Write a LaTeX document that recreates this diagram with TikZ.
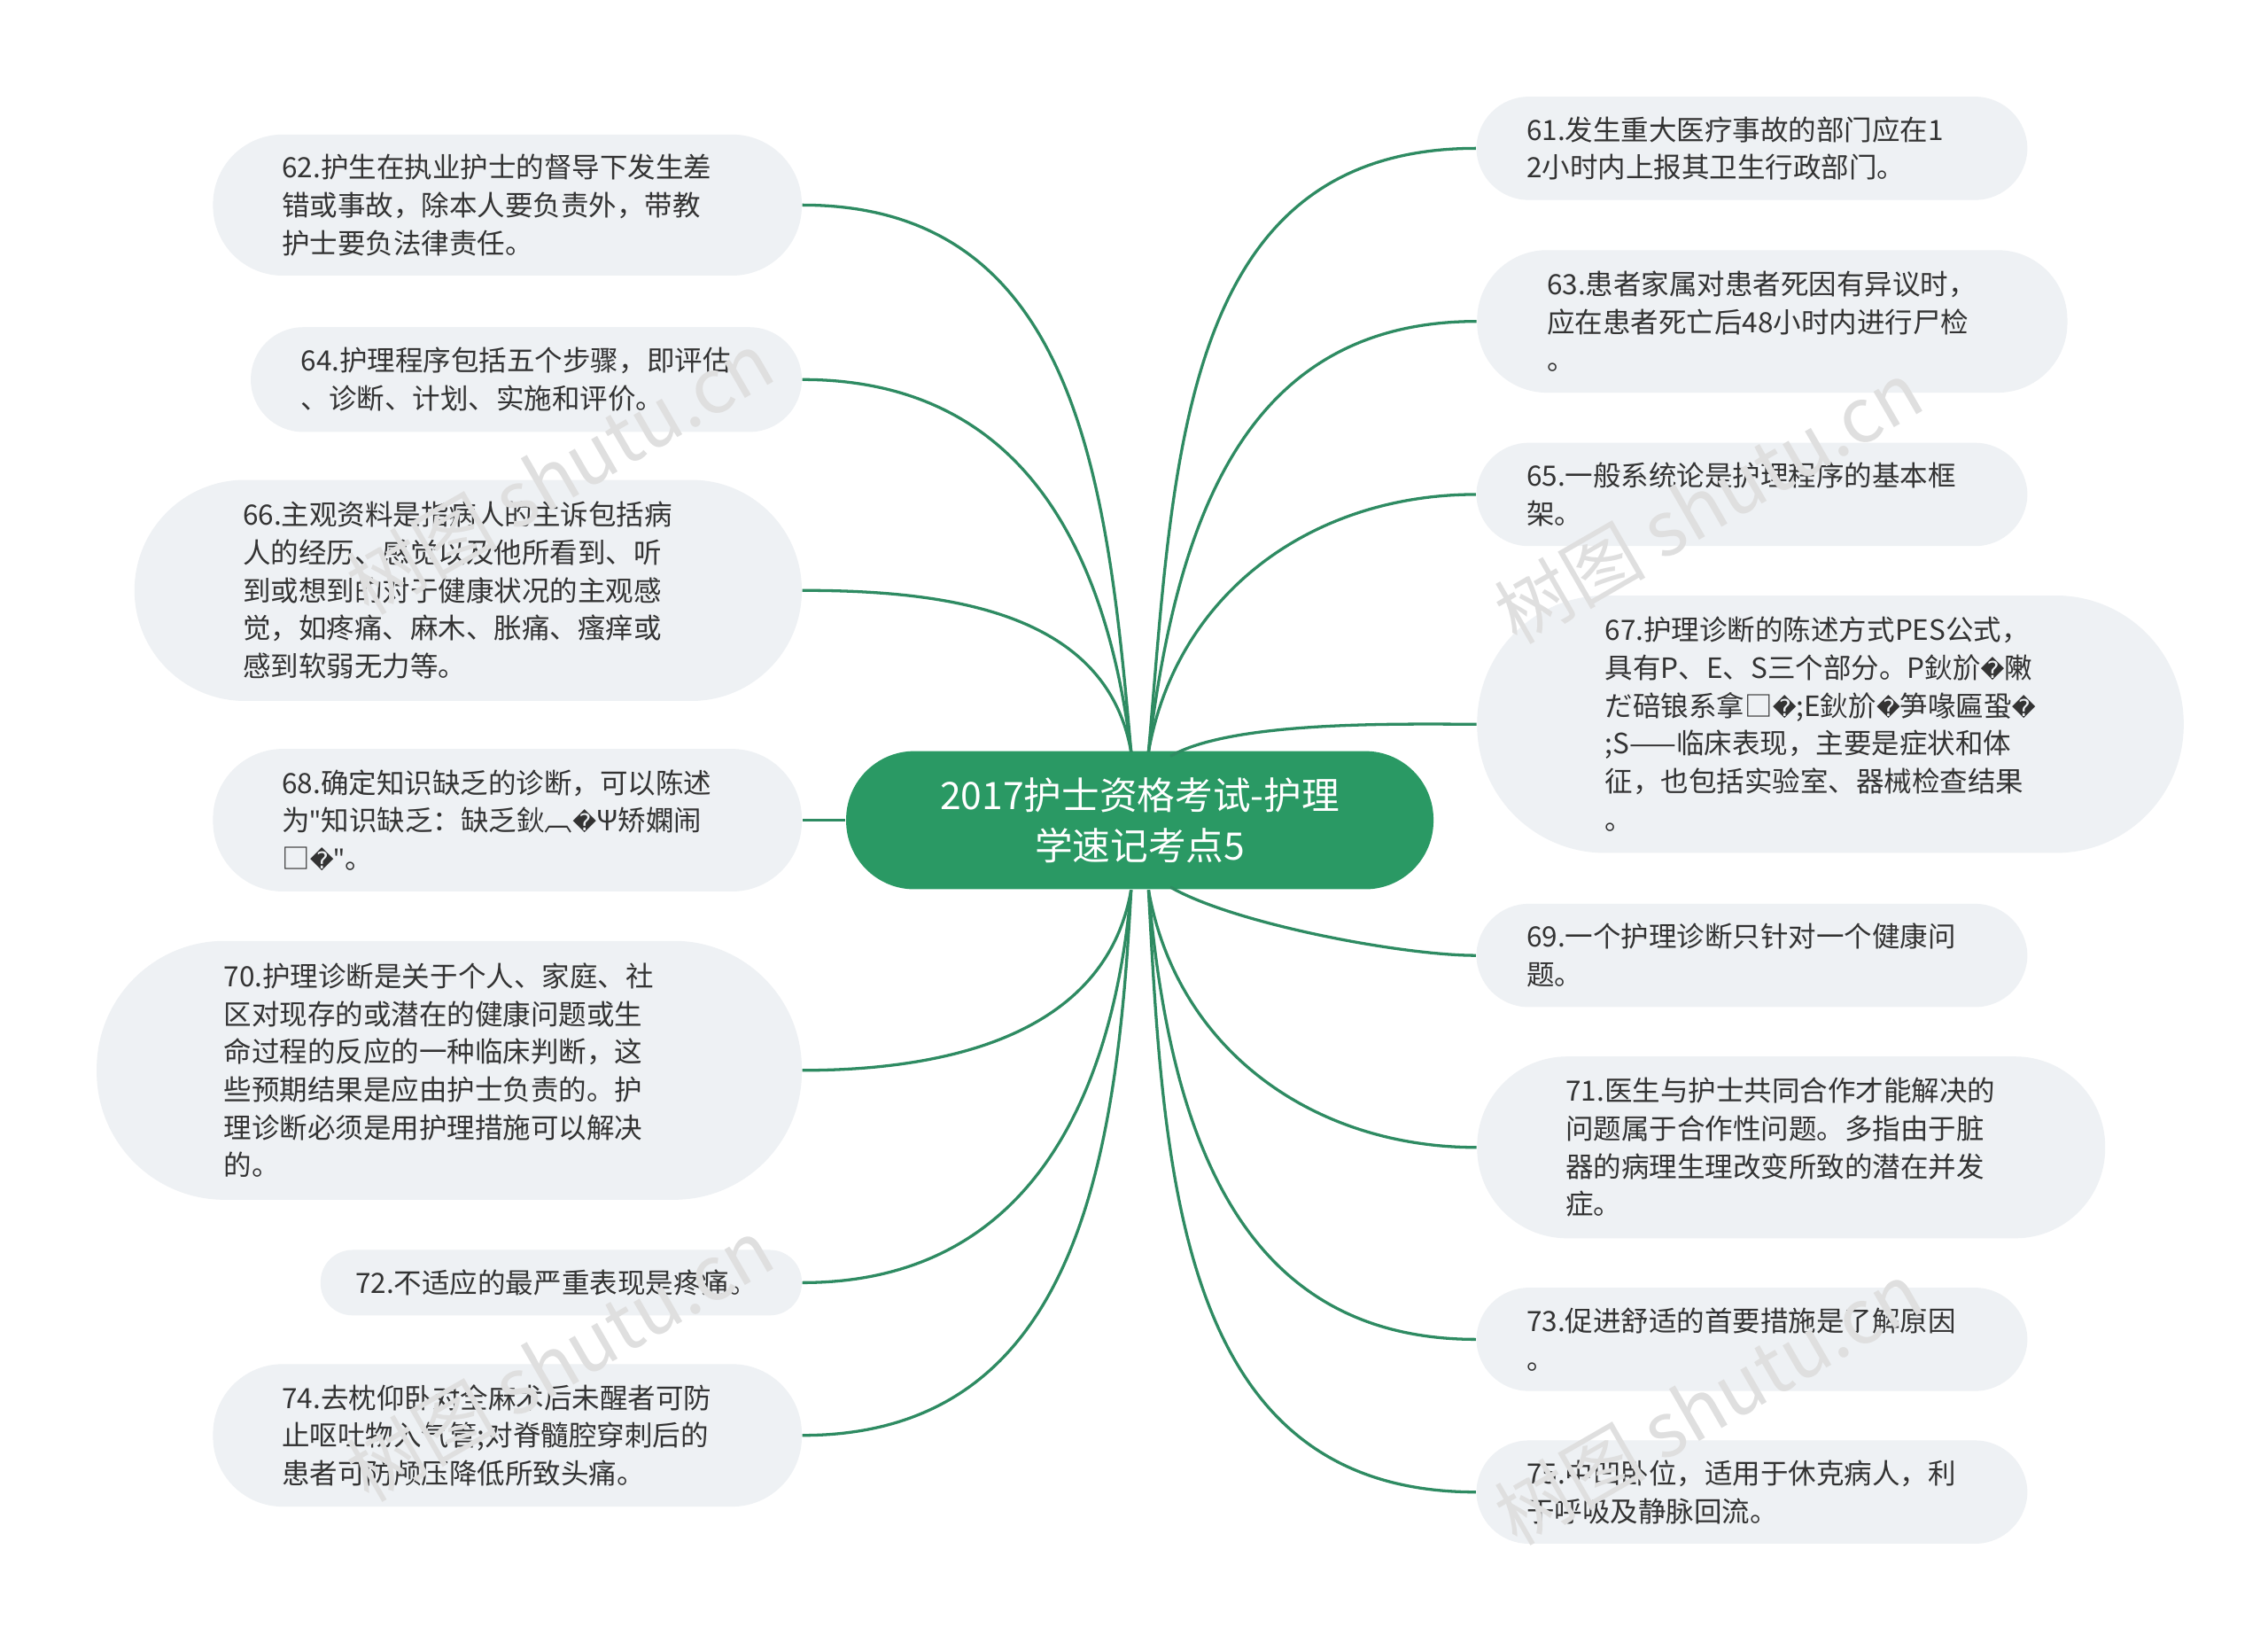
\documentclass[tikz,border=0pt]{standalone}
\usepackage{fontspec}
\setmainfont{Noto Sans CJK SC}
\newfontfamily\dvs{DejaVu Sans}
\newfontfamily\nsans{Noto Sans}
\newcommand{\repch}{{\dvs\fontsize{8}{13}\selectfont �}}
\newcommand{\strq}{{\nsans"}}
\begin{document}
\begin{tikzpicture}[x=0.5pt,y=-0.5pt,
  leaf/.style={fill=boxfill,rounded corners=#1,align=left,text width=155pt,inner sep=0pt,font=\fontsize{9.6}{13}\selectfont,text=txt},
  edge/.style={draw=lnk,line width=1pt},
  wm/.style={text=gray!25,font=\fontsize{26}{26}\selectfont,rotate=30}]
\definecolor{boxfill}{HTML}{EEF1F4}
\definecolor{lnk}{HTML}{2E8B62}
\definecolor{ctr}{HTML}{2A9964}
\definecolor{txt}{HTML}{333333}
\useasboundingbox (0,0) rectangle (1560,1124);
\fill[white] (0,0) rectangle (1560,1124);
\node[fill=ctr,rounded corners=23.5pt,minimum width=202pt,minimum height=47.5pt,align=center,text=white,font=\fontsize{13}{17.5}\selectfont] (c) at (784,564) {2017护士资格考试-护理\\学速记考点5};
% left
\node[leaf=24pt,minimum width=202.5pt,minimum height=48.5pt] (n62) at (349,141) {62.护生在执业护士的督导下发生差\\错或事故，除本人要负责外，带教\\护士要负法律责任。};
\node[leaf=18pt,minimum width=189.5pt,minimum height=36pt] (n64) at (362,261) {64.护理程序包括五个步骤，即评估\\、诊断、计划、实施和评价。};
\node[leaf=38pt,minimum width=229.5pt,minimum height=76pt] (n66) at (322,406) {66.主观资料是指病人的主诉包括病\\人的经历、感觉以及他所看到、听\\到或想到的对于健康状况的主观感\\觉，如疼痛、麻木、胀痛、瘙痒或\\感到软弱无力等。};
\node[leaf=24pt,minimum width=202.5pt,minimum height=49pt] (n68) at (349,564) {68.确定知识缺乏的诊断，可以陈述\\为\strq 知识缺乏：缺乏鈥︹\repch Ψ矫嫻闹\\□\repch\strq 。};
\node[leaf=44pt,minimum width=242.5pt,minimum height=89pt] (n70) at (309,736) {70.护理诊断是关于个人、家庭、社\\区对现存的或潜在的健康问题或生\\命过程的反应的一种临床判断，这\\些预期结果是应由护士负责的。护\\理诊断必须是用护理措施可以解决\\的。};
\node[leaf=11pt,text width=141.5pt,minimum width=165.5pt,minimum height=22.5pt] (n72) at (386,882) {72.不适应的最严重表现是疼痛。};
\node[leaf=24pt,minimum width=202.5pt,minimum height=49pt] (n74) at (349,987) {74.去枕仰卧对全麻术后未醒者可防\\止呕吐物入气管;对脊髓腔穿刺后的\\患者可防颅压降低所致头痛。};
% right
\node[leaf=18pt,minimum width=189.5pt,minimum height=35.5pt] (n61) at (1205,102) {61.发生重大医疗事故的部门应在1\\2小时内上报其卫生行政部门。};
\node[leaf=24pt,minimum width=203pt,minimum height=49pt] (n63) at (1219,221) {63.患者家属对患者死因有异议时，\\应在患者死亡后48小时内进行尸检\\。};
\node[leaf=18pt,minimum width=189.5pt,minimum height=35.5pt] (n65) at (1205,340) {65.一般系统论是护理程序的基本框\\架。};
\node[leaf=44pt,minimum width=243pt,minimum height=88.5pt] (n67) at (1259,498) {67.护理诊断的陈述方式PES公式，\\具有P、E、S三个部分。P鈥斺\repch 敶\\だ碚锒系拿□\repch ;E鈥斺\repch 笋喙匾蛩\repch \\;S——临床表现，主要是症状和体\\征，也包括实验室、器械检查结果\\。};
\node[leaf=18pt,minimum width=189.5pt,minimum height=35.5pt] (n69) at (1205,657) {69.一个护理诊断只针对一个健康问\\题。};
\node[leaf=31pt,minimum width=216pt,minimum height=62.5pt] (n71) at (1232,789) {71.医生与护士共同合作才能解决的\\问题属于合作性问题。多指由于脏\\器的病理生理改变所致的潜在并发\\症。};
\node[leaf=18pt,minimum width=189.5pt,minimum height=35.5pt] (n73) at (1205,921) {73.促进舒适的首要措施是了解原因\\。};
\node[leaf=18pt,minimum width=189.5pt,minimum height=35.5pt] (n75) at (1205,1026) {75.中凹卧位，适用于休克病人，利\\于呼吸及静脉回流。};
% edges
\coordinate (tl) at (778,517); \coordinate (tr) at (790,517);
\coordinate (bl) at (778,612); \coordinate (br) at (790,612);
\draw[edge] (tl) to[out=95,in=0,looseness=1.1] (n62.east);
\draw[edge] (tl) to[out=97,in=0,looseness=1.1] (n64.east);
\draw[edge] (tl) to[out=100,in=0,looseness=1.0] (n66.east);
\draw[edge] (c.west) -- (n68.east);
\draw[edge] (bl) to[out=-100,in=0,looseness=1.0] (n70.east);
\draw[edge] (bl) to[out=-95,in=0,looseness=1.1] (n72.east);
\draw[edge] (bl) to[out=-93,in=0,looseness=1.1] (n74.east);
\draw[edge] (tr) to[out=85,in=180,looseness=1.1] (n61.west);
\draw[edge] (tr) to[out=83,in=180,looseness=1.1] (n63.west);
\draw[edge] (tr) to[out=80,in=180,looseness=1.0] (n65.west);
\draw[edge] (805,520) to[out=30,in=180,looseness=0.6] (n67.west);
\draw[edge] (805,610) to[out=-30,in=180,looseness=0.6] (n69.west);
\draw[edge] (br) to[out=-80,in=180,looseness=1.0] (n71.west);
\draw[edge] (br) to[out=-85,in=180,looseness=1.1] (n73.west);
\draw[edge] (br) to[out=-87,in=180,looseness=1.1] (n75.west);
% watermarks
\node[wm] (w1) at (385,325) {树图 shutu.cn};
\node[wm] (w2) at (1175,345) {树图 shutu.cn};
\node[wm] (w3) at (385,935) {树图 shutu.cn};
\node[wm] (w4) at (1175,965) {树图 shutu.cn};
\end{tikzpicture}
\end{document}
